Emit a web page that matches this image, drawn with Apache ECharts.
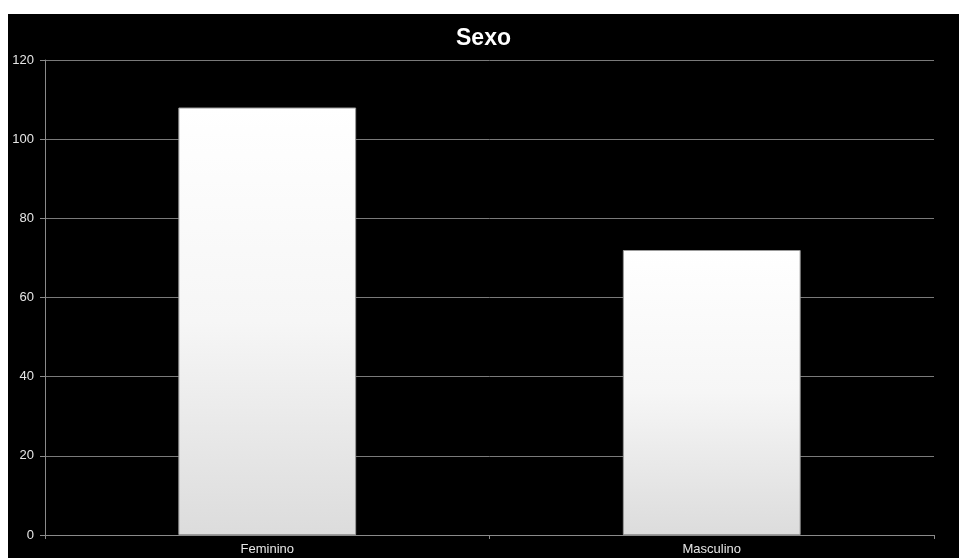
<!DOCTYPE html>
<html><head><meta charset="utf-8">
<script src="https://cdn.jsdelivr.net/npm/echarts@6/dist/echarts.min.js"></script>
<style>
html,body{margin:0;padding:0;background:#fff;width:959px;height:558px;overflow:hidden}
#c{position:absolute;left:8px;top:14px;width:951px;height:544px;background:#000}
</style></head><body>
<div id="c"></div>
<script>
var titleText = 'Sexo';
var categories = ['Feminino', 'Masculino'];
var values = [108, 72];
var yTicks = [0, 20, 40, 60, 80, 100, 120];

var chart = echarts.init(document.getElementById('c'));
chart.setOption({
  backgroundColor: '#000',
  animation: false,
  title: {
    text: titleText, left: 'center', top: 8,
    textStyle: {color: '#fff', fontSize: 23, fontWeight: 'bold', fontFamily: 'Liberation Sans, Arial, sans-serif'}
  },
  grid: {left: 37, right: 25, top: 46, bottom: 23},
  xAxis: {
    type: 'category', data: categories,
    axisLine: {lineStyle: {color: '#8a8a8a', width: 1}},
    axisTick: {show: true, length: 4, lineStyle: {color: '#8a8a8a'}},
    axisLabel: {color: '#e6e6e6', fontSize: 13, margin: 8, fontFamily: 'Liberation Sans, Arial, sans-serif'}
  },
  yAxis: {
    type: 'value', min: yTicks[0], max: yTicks[yTicks.length - 1], interval: 20,
    axisLine: {show: true, lineStyle: {color: '#8a8a8a', width: 1}},
    axisTick: {show: true, length: 5, lineStyle: {color: '#8a8a8a'}},
    splitLine: {lineStyle: {color: '#7a7a7a', width: 1}},
    axisLabel: {color: '#e6e6e6', fontSize: 13, margin: 11, fontFamily: 'Liberation Sans, Arial, sans-serif'}
  },
  series: [{
    type: 'bar', data: values, barWidth: '40%',
    itemStyle: {
      borderColor: '#9a9a9a', borderWidth: 1,
      color: new echarts.graphic.LinearGradient(0, 0, 0, 1, [
        {offset: 0, color: '#ffffff'},
        {offset: 0.5, color: '#f6f6f6'},
        {offset: 1, color: '#dcdcdc'}
      ])
    }
  }]
});
</script>
</body></html>
